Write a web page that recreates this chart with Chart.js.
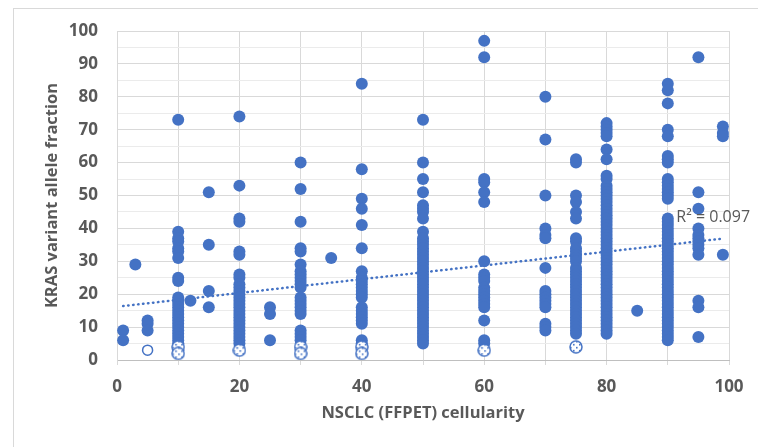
<!DOCTYPE html>
<html>
<head>
<meta charset="utf-8">
<script src="https://cdn.jsdelivr.net/npm/chart.js@4.4.1/dist/chart.umd.min.js"></script>
<style>
  html, body { margin: 0; padding: 0; background: #fff; overflow: hidden; }
  .frame { position: absolute; left: 13px; top: 8px; width: 800px; height: 500px; border: 1px solid #d9d9d9; }
  .wrap { position: absolute; left: 0; top: 0; width: 758px; height: 447px; }
</style>
</head>
<body>
<div class="frame"></div>
<div class="wrap"><canvas id="chart" width="758" height="447"></canvas></div>
<script>
// cellularity levels (x) and the KRAS VAF values measured at each level (y)
const cellularity = [1, 3, 5, 10, 12, 15, 20, 25, 30, 35, 40, 50, 60, 70, 75, 80, 85, 90, 95, 99];
const vafByCellularity = [
    [9, 6],
    [29],
    [12, 11, 9],
    [73, 39, 37, 36, 34, 33, 31, 25, 24, 19, 18, 17, 16, 15, 14, 13, 12, 11, 10, 9, 8, 7, 6, 5, 3],
    [18],
    [51, 35, 21, 16],
    [74, 53, 43, 42, 33, 32, 26, 25, 23, 22, 21, 20, 19, 18, 17, 16, 15, 14, 13, 12, 11, 10, 9, 8, 7, 6, 5],
    [16, 14, 6],
    [60, 52, 42, 34, 33, 29, 27, 26, 25, 24, 23, 22, 19, 18, 17, 16, 15, 14, 9, 8, 7, 6],
    [31],
    [84, 58, 49, 46, 41, 34, 27, 25, 24, 23, 22, 21, 20, 19, 16, 15, 14, 13, 12, 11, 6, 5],
    [73, 60, 55, 51, 47, 46, 45, 43, 39, 37, 36, 35, 34, 33, 32, 31, 30, 29, 28, 27, 26, 25, 24, 23, 22, 21, 20, 19, 18, 17, 16, 15, 14, 13, 12, 11, 10, 9, 8, 7, 6, 5],
    [97, 92, 55, 54, 51, 48, 30, 26, 25, 24, 22, 21, 20, 19, 18, 17, 16, 12, 6, 5],
    [80, 67, 50, 40, 38, 37, 28, 21, 20, 19, 18, 17, 16, 11, 10, 9],
    [61, 60, 50, 48, 45, 43, 37, 36, 34, 33, 32, 31, 30, 28, 27, 26, 25, 24, 23, 22, 21, 20, 19, 18, 17, 16, 15, 14, 13, 12, 11, 10, 9, 8],
    [72, 71, 70, 69, 68, 64, 61, 56, 55, 53, 52, 51, 50, 49, 48, 47, 46, 45, 44, 43, 42, 41, 40, 39, 38, 37, 36, 35, 34, 33, 32, 31, 30, 29, 28, 27, 26, 25, 24, 23, 22, 21, 20, 19, 18, 17, 16, 15, 14, 13, 12, 11, 10, 9, 8],
    [15],
    [84, 82, 78, 70, 68, 62, 61, 60, 55, 54, 53, 52, 51, 50, 49, 43, 42, 41, 40, 39, 38, 37, 36, 35, 34, 33, 32, 31, 30, 29, 28, 27, 26, 25, 24, 23, 22, 21, 20, 19, 18, 17, 16, 15, 14, 13, 12, 11, 10, 9, 8, 7, 6],
    [92, 51, 46, 40, 38, 37, 36, 35, 34, 32, 18, 16, 7],
    [71, 69, 68, 32]
];

// open (hollow) marker
const openX = [5];
const openY = [3];

// hatched markers near the bottom
const hatchX = [10, 10, 20, 30, 30, 40, 40, 60, 75];
const hatchY = [4, 2, 3, 4, 2, 4, 2, 3, 4];

// linear trendline end points
const trendX = [1, 99];
const trendY = [16.4, 36.9];
const r2Text = 'R² = 0.097';
const r2Pos = { x: 91.4, y: 43.2 };

const xTicks = [0, 20, 40, 60, 80, 100];
const yTicks = [0, 10, 20, 30, 40, 50, 60, 70, 80, 90, 100];

const BLUE = '#4472C4';
const GREY = '#595959';

function makeHatchPoint() {
    const c = document.createElement('canvas');
    c.width = 14; c.height = 14;
    const g = c.getContext('2d');
    g.beginPath();
    g.arc(7, 7, 6, 0, Math.PI * 2);
    g.fillStyle = '#fff';
    g.fill();
    g.save();
    g.clip();
    g.fillStyle = BLUE;
    for (let i = 1; i < 14; i += 3) {
        for (let j = 1; j < 14; j += 3) {
            if ((i + j) % 2 === 0) g.fillRect(i, j, 1.6, 1.6);
        }
    }
    g.restore();
    g.lineWidth = 1.5;
    g.strokeStyle = BLUE;
    g.stroke();
    return c;
}

const mainPoints = [];
cellularity.forEach((x, i) => {
    vafByCellularity[i].forEach(y => mainPoints.push({ x: x, y: y }));
});
const openPoints = openX.map((x, i) => ({ x: x, y: openY[i] }));
const hatchPoints = hatchX.map((x, i) => ({ x: x, y: hatchY[i] }));
const trendPoints = trendX.map((x, i) => ({ x: x, y: trendY[i] }));

const r2Label = {
    id: 'r2Label',
    afterDatasetsDraw(chart) {
        const { ctx, scales } = chart;
        ctx.save();
        ctx.font = '16px "Open Sans"';
        ctx.fillStyle = GREY;
        ctx.textBaseline = 'middle';
        ctx.textAlign = 'left';
        ctx.fillText(r2Text, scales.x.getPixelForValue(r2Pos.x), scales.y.getPixelForValue(r2Pos.y));
        ctx.restore();
    }
};

new Chart(document.getElementById('chart'), {
    type: 'scatter',
    data: {
        datasets: [
            {
                type: 'line',
                data: trendPoints,
                borderColor: BLUE,
                borderWidth: 2.5,
                borderDash: [0.5, 4.5],
                borderCapStyle: 'round',
                pointRadius: 0,
                fill: false,
                order: 10
            },
            {
                data: mainPoints,
                backgroundColor: BLUE,
                borderColor: BLUE,
                pointRadius: 6,
                borderWidth: 0,
                order: 2
            },
            {
                data: openPoints,
                backgroundColor: '#fff',
                borderColor: BLUE,
                borderWidth: 1.5,
                pointRadius: 5,
                order: 1
            },
            {
                data: hatchPoints,
                pointStyle: makeHatchPoint(),
                order: 0
            }
        ]
    },
    options: {
        responsive: false,
        animation: false,
        events: [],
        layout: { padding: { left: 0, top: 31, right: 29, bottom: 0 } },
        plugins: { legend: { display: false }, tooltip: { enabled: false } },
        scales: {
            x: {
                type: 'linear',
                min: 0,
                max: 100,
                afterFit: s => { s.height = 87; },
                ticks: {
                    stepSize: 10,
                    autoSkip: false,
                    maxRotation: 0,
                    padding: 12,
                    color: GREY,
                    font: { family: 'Open Sans', size: 17, weight: 'bold' },
                    callback: v => xTicks.includes(v) ? String(v) : ''
                },
                grid: {
                    color: '#d9d9d9',
                    tickLength: 5,
                    drawTicks: true
                },
                border: { color: '#bfbfbf', width: 1 },
                title: {
                    display: true,
                    text: 'NSCLC (FFPET) cellularity',
                    color: GREY,
                    font: { family: 'Open Sans', size: 16.5, weight: 'bold' },
                    padding: { top: 0, bottom: 24 }
                }
            },
            y: {
                type: 'linear',
                min: 0,
                max: 100,
                afterFit: s => { s.width = 117; },
                ticks: {
                    stepSize: 5,
                    autoSkip: false,
                    padding: 19,
                    color: GREY,
                    font: { family: 'Open Sans', size: 17, weight: 'bold' },
                    callback: v => yTicks.includes(v) ? String(v) : ''
                },
                grid: {
                    color: c => (c.tick && c.tick.value % 10 === 0) ? '#d9d9d9' : '#ebebeb',
                    drawTicks: false
                },
                border: { color: '#d9d9d9', width: 1 },
                title: {
                    display: true,
                    text: 'KRAS variant allele fraction',
                    color: GREY,
                    font: { family: 'Open Sans', size: 16.5, weight: 'bold' },
                    padding: { top: 42, bottom: 0 }
                }
            }
        }
    },
    plugins: [r2Label]
});
</script>
</body>
</html>
